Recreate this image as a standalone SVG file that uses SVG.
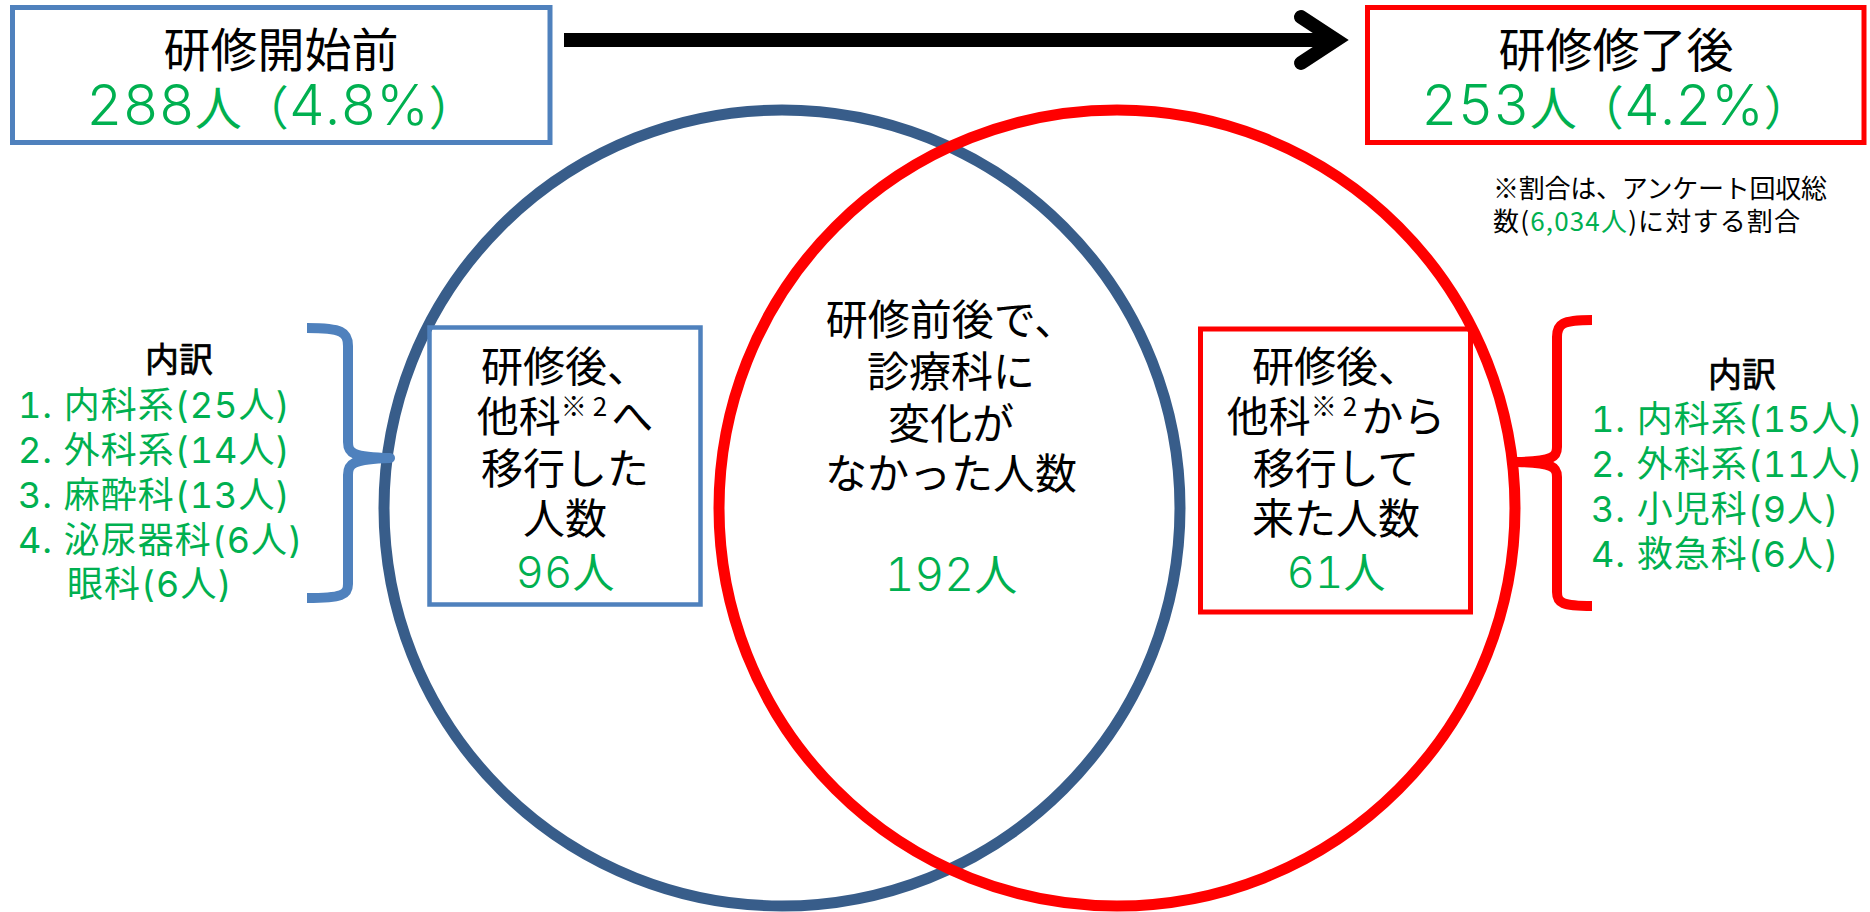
<svg xmlns="http://www.w3.org/2000/svg" width="1870" height="912" viewBox="0 0 1870 912">
<style>
.t{font-family:"Noto Sans CJK JP","Noto Sans CJK SC",sans-serif;fill:#000}
.n{font-family:"Inter","DejaVu Sans","Noto Sans CJK JP",sans-serif;font-weight:300;font-variant-numeric:tabular-nums;fill:#00B050}
.l{font-family:"Inter","DejaVu Sans","Noto Sans CJK JP",sans-serif;font-weight:400;font-variant-numeric:tabular-nums;font-size:36px;letter-spacing:1px;fill:#00B050}
.cj{font-family:"Noto Sans CJK JP","Noto Sans CJK SC",sans-serif;font-weight:400}
.g{fill:#00B050}
.c{text-anchor:middle}
.bluebox{fill:#fff;stroke:#4F81BD;stroke-width:5}
.redbox{fill:#fff;stroke:#FF0000;stroke-width:5}
.brace{fill:none;stroke-width:10;stroke-linejoin:round}
</style>
<defs>
<marker id="chev" markerUnits="userSpaceOnUse" viewBox="0 0 100 80" markerWidth="100" markerHeight="80" refX="70" refY="40" orient="auto">
<path d="M35,17 L70,40 L35,63" fill="none" stroke="#000" stroke-width="14" stroke-linecap="round" stroke-linejoin="miter" stroke-miterlimit="10"/>
</marker>
</defs>

<g id="circle-before">
<circle cx="782" cy="508" r="398" fill="none" stroke="#385D8A" stroke-width="11"/>
</g>
<g id="circle-after">
<circle cx="1117" cy="508" r="398" fill="none" stroke="#FF0000" stroke-width="11"/>
</g>

<g id="connectors">
<line x1="564" y1="40" x2="1336" y2="40" stroke="#000" stroke-width="14" marker-end="url(#chev)"/>
</g>

<g id="before">
<rect class="bluebox" x="12.5" y="7.5" width="537.5" height="135"/>
<text class="t c" x="281" y="67" font-size="47">研修開始前</text>
<text class="n c" x="281" y="125" font-size="56">288<tspan class="cj" font-size="47">人（</tspan>4.8%<tspan class="cj" font-size="47">）</tspan></text>
</g>

<g id="after">
<rect class="redbox" x="1367.5" y="7.5" width="496.5" height="135"/>
<text class="t c" x="1616" y="67" font-size="47">研修修了後</text>
<text class="n c" x="1616" y="125" font-size="56">253<tspan class="cj" font-size="47">人（</tspan>4.2%<tspan class="cj" font-size="47">）</tspan></text>
</g>

<g id="note">
<text class="t" x="1493" y="198" font-size="26" textLength="334">※割合は、アンケート回収総</text>
<text class="t" x="1493" y="231" font-size="26" textLength="307">数(<tspan class="g">6,034人</tspan>)に対する割合</text>
</g>

<g id="moved-out">
<rect x="429.5" y="327.5" width="271" height="277" fill="none" stroke="#4F81BD" stroke-width="4.5"/>
<text class="t c" x="565" y="382" font-size="42">研修後、</text>
<text class="t c" x="565" y="432" font-size="42">他科<tspan font-size="26" dy="-16">※</tspan><tspan font-size="26" dx="6">2</tspan><tspan dy="16" dx="4">へ</tspan></text>
<text class="t c" x="565" y="484" font-size="42">移行した</text>
<text class="t c" x="565" y="534" font-size="42">人数</text>
<text class="n c" x="565" y="588" font-size="44">96<tspan class="cj" font-size="42">人</tspan></text>
</g>

<g id="unchanged">
<text class="t c" x="951" y="335" font-size="42">研修前後で、</text>
<text class="t c" x="951" y="387" font-size="42">診療科に</text>
<text class="t c" x="951" y="439" font-size="42">変化が</text>
<text class="t c" x="951" y="489" font-size="42">なかった人数</text>
<text class="n c" x="951" y="591" font-size="46">192<tspan class="cj" font-size="43">人</tspan></text>
</g>

<g id="moved-in">
<rect x="1200.5" y="329" width="270" height="283" fill="none" stroke="#FF0000" stroke-width="5"/>
<text class="t c" x="1336" y="382" font-size="42">研修後、</text>
<text class="t c" x="1336" y="432" font-size="42">他科<tspan font-size="26" dy="-16">※</tspan><tspan font-size="26" dx="6">2</tspan><tspan dy="16" dx="4">から</tspan></text>
<text class="t c" x="1336" y="484" font-size="42">移行して</text>
<text class="t c" x="1336" y="534" font-size="42">来た人数</text>
<text class="n c" x="1336" y="588" font-size="44">61<tspan class="cj" font-size="42">人</tspan></text>
</g>

<g id="breakdown-before">
<path class="brace" stroke="#4F81BD" d="M307,328 C342,328 348,332 348,346 L348,442 C348,453 352,457 390,458 C352,459 348,464 348,475 L348,584 C348,595 342,598 307,598"/>
<text class="t c" x="179" y="372" font-size="34" stroke="#000" stroke-width="0.7">内訳</text>
<text class="l" x="18" y="418">1. <tspan class="cj">内科系</tspan>(25<tspan class="cj">人</tspan>)</text>
<text class="l" x="18" y="463">2. <tspan class="cj">外科系</tspan>(14<tspan class="cj">人</tspan>)</text>
<text class="l" x="18" y="508">3. <tspan class="cj">麻酔科</tspan>(13<tspan class="cj">人</tspan>)</text>
<text class="l" x="18" y="553">4. <tspan class="cj">泌尿器科</tspan>(6<tspan class="cj">人</tspan>)</text>
<text class="l" x="67" y="597"><tspan class="cj">眼科</tspan>(6<tspan class="cj">人</tspan>)</text>
</g>

<g id="breakdown-after">
<path class="brace" stroke="#FF0000" d="M1592,320 C1562,320 1557,324 1557,337 L1557,447 C1557,457 1553,461 1517,462 C1553,463 1557,467 1557,477 L1557,592 C1557,603 1562,606 1592,606"/>
<text class="t c" x="1742" y="387" font-size="34" stroke="#000" stroke-width="0.7">内訳</text>
<text class="l" x="1591" y="432">1. <tspan class="cj">内科系</tspan>(15<tspan class="cj">人</tspan>)</text>
<text class="l" x="1591" y="477">2. <tspan class="cj">外科系</tspan>(11<tspan class="cj">人</tspan>)</text>
<text class="l" x="1591" y="522">3. <tspan class="cj">小児科</tspan>(9<tspan class="cj">人</tspan>)</text>
<text class="l" x="1591" y="567">4. <tspan class="cj">救急科</tspan>(6<tspan class="cj">人</tspan>)</text>
</g>
</svg>
